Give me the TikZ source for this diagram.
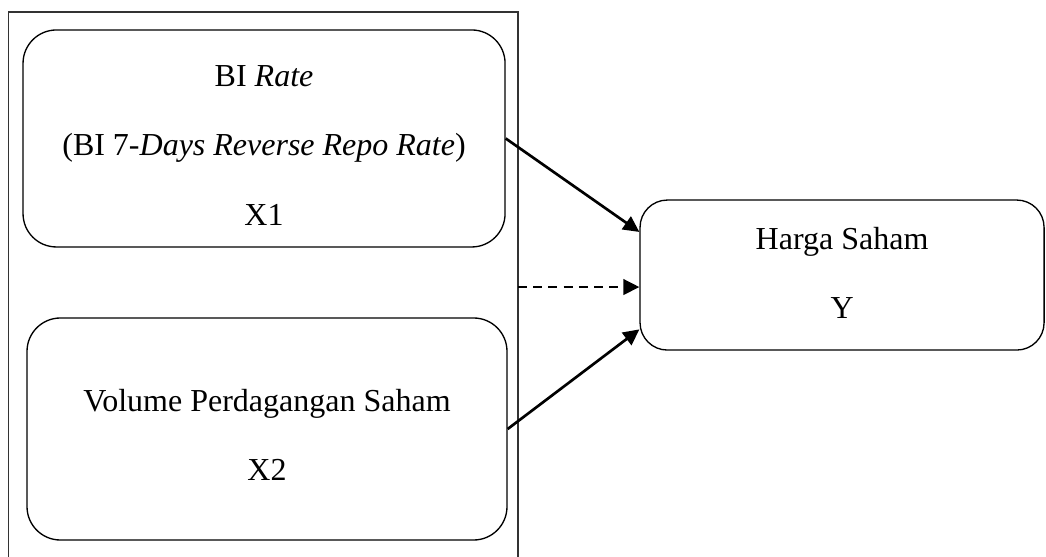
\documentclass[tikz,border=0pt]{standalone}
\usepackage{fontspec}
\setmainfont{Liberation Serif}
\usetikzlibrary{arrows.meta}

\begin{document}
\begin{tikzpicture}[
  font=\fontsize{12}{26}\selectfont,
  kotak/.style={draw=black, line width=0.5pt, rounded corners=0.44cm, inner sep=0pt},
  teks/.style={align=center, inner sep=0pt},
  panah/.style={draw=black, line width=1pt, -{Triangle[length=6pt, width=5.8pt]}},
  panahputus/.style={panah, dash pattern=on 3.4pt off 2.3pt},
  bingkai/.style={draw=black!80, line width=0.5pt}
]

\useasboundingbox (0,0) rectangle (13.786,-7.341);

%--------------------------------------------------------------
% Bingkai variabel bebas
%--------------------------------------------------------------
\draw[bingkai] (0.112,-7.341) -- (0.112,-0.158) -- (6.827,-0.158) -- (6.827,-7.341);

%--------------------------------------------------------------
% X1 dan X2
%--------------------------------------------------------------
\node[kotak, minimum width=6.353cm, minimum height=2.860cm] (x1) at (3.480,-1.825) {};
\node[teks] (tx1) at ([yshift=-0.092cm]x1.center)
  {BI \textit{Rate}\\(BI 7-\textit{Days Reverse Repo Rate})\\X1};
\node[kotak, minimum width=6.326cm, minimum height=2.926cm] (x2) at (3.519,-5.654) {};
\node[teks] (tx2) at ([yshift=-0.080cm]x2.center)
  {Volume Perdagangan Saham\\X2};

%--------------------------------------------------------------
% Y
%--------------------------------------------------------------
\node[kotak, rounded corners=0.36cm, minimum width=5.325cm, minimum height=1.977cm] (y) at (11.098,-3.625) {};
\node[teks] (ty) at ([yshift=0.026cm]y.center) {Harga Saham\\Y};

%--------------------------------------------------------------
% Panah pengaruh
%--------------------------------------------------------------
\coordinate (pangkal) at (6.827,-3.783);
\draw[panah] (x1.east) -- (y.168);
\draw[panahputus] (pangkal) -- (pangkal -| y.west);
\draw[panah] (x2.east) -- (y.195);

\end{tikzpicture}
\end{document}
